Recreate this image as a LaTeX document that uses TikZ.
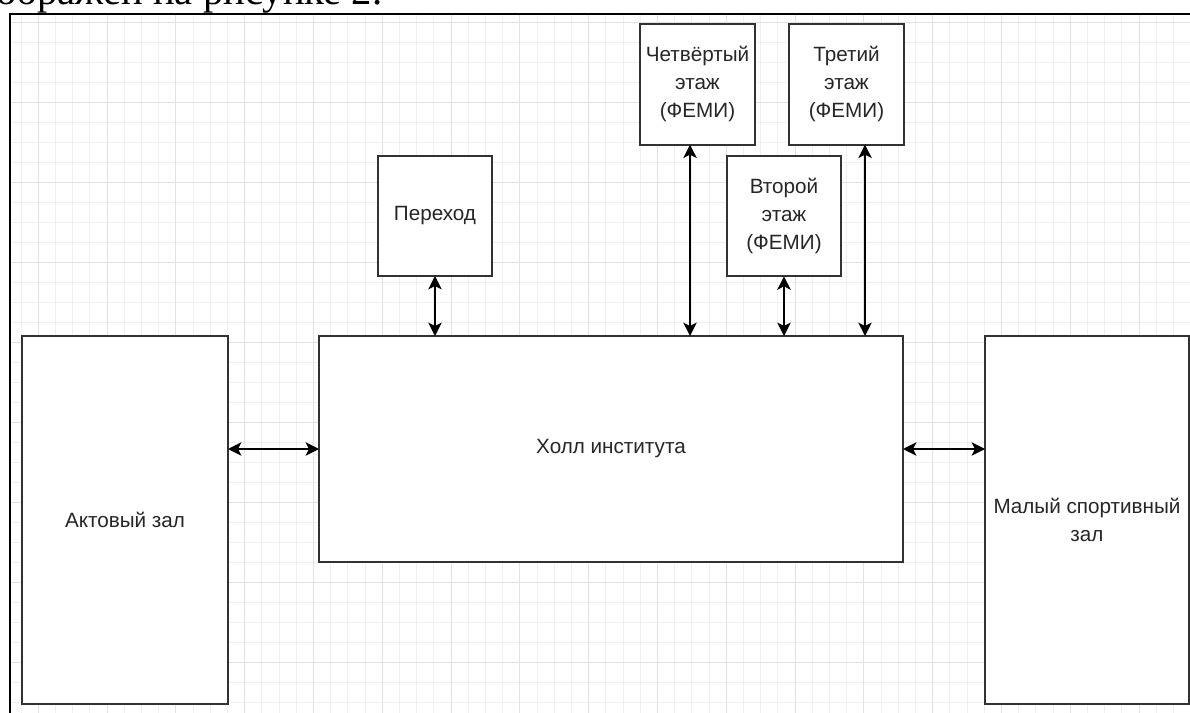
\documentclass[tikz,border=0pt]{standalone}
\usepackage{fontspec}
\setmainfont{Liberation Sans}
\newfontfamily\pagefont{Liberation Serif}
\usepackage{tikz}
\usetikzlibrary{arrows.meta,positioning}
\usepackage{xcolor}
\definecolor{gridminor}{RGB}{240,240,240}
\definecolor{gridmajor}{RGB}{226,226,226}
\definecolor{boxline} {RGB}{50,50,50}

\begin{document}
\begin{tikzpicture}[
  x=0.75pt, y=-0.75pt,
  every node/.style={font=\fontsize{15.5}{21}\selectfont, align=center, text=black!85},
  room/.style={draw=boxline, fill=white, line width=1.5pt, inner sep=0pt, outer sep=0pt},
  floorbox/.style={room, minimum width=85.5pt, minimum height=90.5pt},
  link/.style={{Stealth[length=10pt,width=10pt,inset=2.5pt]}-{Stealth[length=10pt,width=10pt,inset=2.5pt]}, line width=1.5pt},
  minorline/.style={draw=gridminor, line width=0.75pt},
  majorline/.style={draw=gridmajor, line width=0.75pt}
]
  \clip (0,0) rectangle (1190,713);
  \useasboundingbox (0,0) rectangle (1190,713);

  % Page text and frame
  \node[font=\pagefont\fontsize{30.5}{34}\selectfont, text=black, anchor=base west, inner sep=0pt] (caption) at (-4,5) {ображен на рисунке 2.};
  \begin{scope}
    \clip (10,14) rectangle (1200,720);
    \foreach \i in {0,...,68}
      \draw[minorline] ({21.1+17.2*\i},14) -- ++(0,710);
    \foreach \j in {0,...,35}
      \draw[minorline] (10,{2.7+20*\j}) -- ++(1190,0);
    \foreach \i in {0,...,17}
      \draw[majorline] ({38.3+68.8*\i},14) -- ++(0,710);
    \foreach \j in {0,...,9}
      \draw[majorline] (10,{22.7+80*\j}) -- ++(1190,0);
  \end{scope}
  \draw[line width=1.6pt] (10,720) -- (10,14) -- (1200,14);

  % Nodes
  \node (hall) [room, anchor=north west, minimum width=438pt, minimum height=169.5pt] at (319,336) {Холл института};
  \node (akt) [room, left=68.25pt of hall.north west, anchor=north east, minimum width=154.5pt, minimum height=276pt] {Актовый зал};
  \node (sport) [room, right=61.5pt of hall.north east, anchor=north west, minimum width=153pt, minimum height=276pt] {Малый спортивный\\зал};

  \node (perehod) [floorbox, above right=45pt and 44.25pt of hall.north west, minimum height=90pt] {Переход};
  \node (vtoroy) [floorbox, right=176.25pt of perehod] {Второй\\этаж\\(ФЕМИ)};
  \node (chetv) [floorbox, above right=8.25pt and 21pt of vtoroy.north west, anchor=south east, minimum width=86.25pt] {Четвёртый\\этаж\\(ФЕМИ)};
  \node (tretiy) [floorbox, right=25.5pt of chetv, minimum width=86.25pt] {Третий\\этаж\\(ФЕМИ)};

  % Paths
  \draw [link] (perehod.south) -- (perehod.south |- hall.north);
  \draw [link] ([xshift=-5.6pt]chetv.south) -- ([xshift=-5.6pt]chetv.south |- hall.north);
  \draw [link] (vtoroy.south) -- (vtoroy.south |- hall.north);
  \draw [link] ([xshift=13.9pt]tretiy.south) -- ([xshift=13.9pt]tretiy.south |- hall.north);

  \draw [link] (akt.east |- hall.west) -- (hall.west);
  \draw [link] (hall.east) -- (hall.east -| sport.west);
\end{tikzpicture}
\end{document}
